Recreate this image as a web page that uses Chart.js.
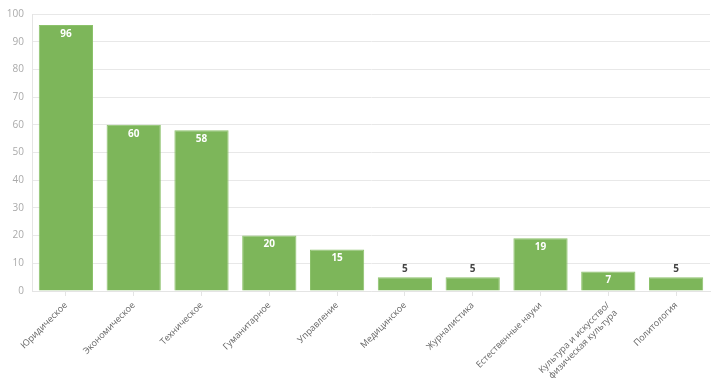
<!DOCTYPE html>
<html>
<head>
<meta charset="utf-8">
<script src="https://cdn.jsdelivr.net/npm/chart.js@4"></script>
<style>
  html, body { margin: 0; padding: 0; background: #fff; }
  #wrap { width: 720px; height: 378px; }
</style>
</head>
<body>
<div id="wrap"><canvas id="myChart"></canvas></div>
<script>
const categories = [
    'Юридическое',
    'Экономическое',
    'Техническое',
    'Гуманитарное',
    'Управление',
    'Медицинское',
    'Журналистика',
    'Естественные науки',
    ['Культура и искусство/', 'физическая культура'],
    'Политология'
];
const counts = [96, 60, 58, 20, 15, 5, 5, 19, 7, 5];
const yTicks = [0, 10, 20, 30, 40, 50, 60, 70, 80, 90, 100];

// values on the bars: inside for tall bars, above for short ones
const barLabels = {
    id: 'barLabels',
    afterDatasetsDraw(chart) {
        const ctx = chart.ctx;
        const meta = chart.getDatasetMeta(0);
        ctx.save();
        ctx.font = 'bold 10px "Open Sans"';
        ctx.textAlign = 'center';
        ctx.textBaseline = 'middle';
        meta.data.forEach((bar, i) => {
            const v = counts[i];
            if (v >= 7) {
                ctx.fillStyle = '#ffffff';
                ctx.fillText(String(v), bar.x, bar.y + 9);
            } else {
                ctx.fillStyle = '#444444';
                ctx.fillText(String(v), bar.x, bar.y - 8);
            }
        });
        ctx.restore();
    }
};

new Chart(document.getElementById('myChart'), {
    type: 'bar',
    data: {
        labels: categories,
        datasets: [{
            data: counts,
            backgroundColor: '#7db65a',
            borderColor: '#8cc26b',
            borderWidth: 1,
            categoryPercentage: 0.8,
            barPercentage: 1
        }]
    },
    options: {
        responsive: true,
        maintainAspectRatio: false,
        animation: false,
        layout: { padding: { left: 0, right: 10, top: 9, bottom: 0 } },
        plugins: {
            legend: { display: false },
            tooltip: { enabled: false }
        },
        scales: {
            x: {
                offset: true,
                afterFit(axis) { axis.height = 87; },
                grid: { drawOnChartArea: false, drawTicks: true, tickLength: 5, offset: false, color: '#e4e4e4' },
                border: { color: '#e4e4e4' },
                ticks: {
                    color: '#666',
                    font: { family: '"Open Sans"', size: 9 },
                    minRotation: 45,
                    maxRotation: 45,
                    autoSkip: false,
                    padding: 4
                }
            },
            y: {
                min: 0,
                max: 100,
                afterBuildTicks(axis) {
                    axis.ticks = yTicks.map((v) => ({ value: v }));
                },
                afterFit(axis) { axis.width = 32; },
                grid: { color: '#e8e8e8', drawTicks: false },
                border: { color: '#e4e4e4' },
                ticks: {
                    color: '#aaa',
                    font: { family: '"Open Sans"', size: 10 },
                    padding: 8
                }
            }
        }
    },
    plugins: [barLabels]
});
</script>
</body>
</html>
